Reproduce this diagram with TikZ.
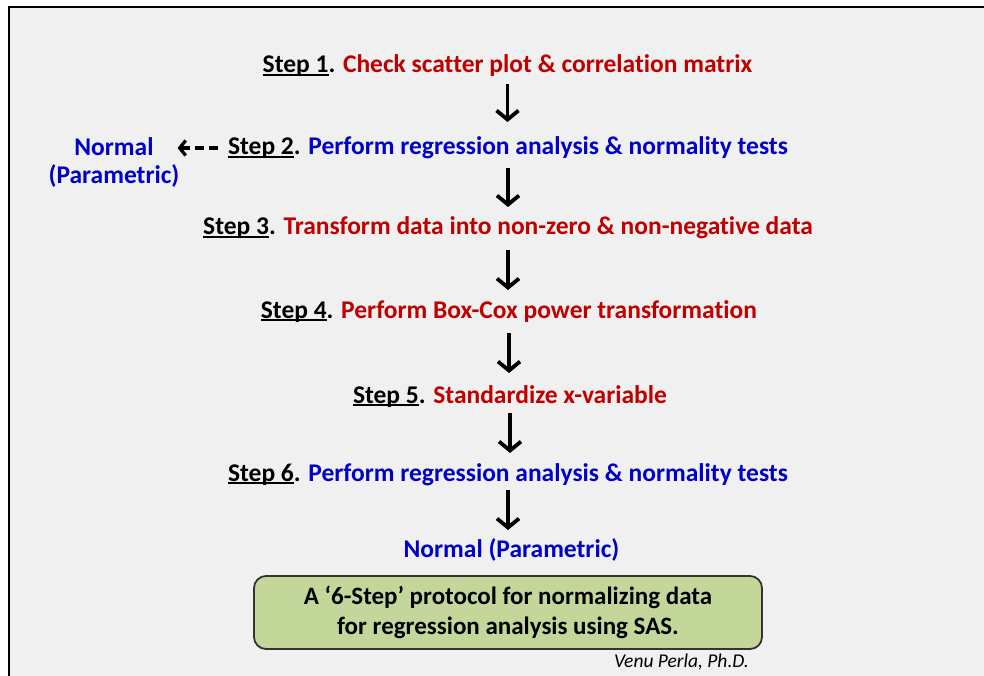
\documentclass[tikz,border=0pt]{standalone}
\usepackage{fontspec}
\setmainfont[Ligatures=CommonOff]{Carlito}
\usetikzlibrary{arrows.meta}
\definecolor{stepred}{HTML}{C00000}
\definecolor{stepblue}{HTML}{0000C8}
\definecolor{boxgreen}{HTML}{C4D79B}
\definecolor{bggray}{HTML}{F0F0F0}
\newlength\ulw
\newcommand\stepul[1]{\settowidth\ulw{#1}\rlap{\rule[-2.6pt]{\ulw}{1.6pt}}#1}
\tikzset{
  steptxt/.style={anchor=base, inner sep=0pt, font=\fontsize{25.5}{30}\selectfont\bfseries},
  downarr/.style={line width=3.8pt, -{Straight Barb[length=9pt,width=22pt]}},
  dasharr/.style={line width=3.2pt, dash pattern=on 9pt off 5pt, -{Straight Barb[length=6pt,width=15pt]}},
  notebox/.style={draw=black!80, line width=1.8pt, fill=boxgreen, rounded corners=12pt,
    minimum width=508pt, minimum height=73pt, align=center, inner sep=0pt,
    font=\fontsize{25}{29.5}\selectfont\bfseries},
}
\begin{document}
\begin{tikzpicture}[x=1pt,y=-1pt]
\useasboundingbox (0,0) rectangle (984,676);
\fill[white] (0,0) rectangle (984,676);
\fill[bggray] (9,7) rectangle (984,676);
\draw[line width=2.5pt] (9,676) -- (9,7) -- (984,7);

\node[steptxt] (s1) at (507.5,73) {\stepul{Step 1}. \textcolor{stepred}{Check scatter plot \& correlation matrix}};
\node[steptxt] (s2) at (508,155) {\stepul{Step 2}. \textcolor{stepblue}{Perform regression analysis \& normality tests}};
\node[steptxt] (s3) at (508,235) {\stepul{Step 3}. \textcolor{stepred}{Transform data into non-zero \& non-negative data}};
\node[steptxt] (s4) at (509,318) {\stepul{Step 4}. \textcolor{stepred}{Perform Box-Cox power transformation}};
\node[steptxt] (s5) at (510,403) {\stepul{Step 5}. \textcolor{stepred}{Standardize x-variable}};
\node[steptxt] (s6) at (508,481) {\stepul{Step 6}. \textcolor{stepblue}{Perform regression analysis \& normality tests}};
\node[steptxt, text=stepblue] (n7) at (511.5,557) {Normal (Parametric)};
\node[anchor=north, inner sep=0pt, align=center, text=stepblue,
      font=\fontsize{25.5}{28}\selectfont\bfseries] (nl) at (114,137) {Normal\\(Parametric)};

\draw[downarr] ([yshift=-11pt]s1.base) -- ([yshift=33pt]s1.base |- s2.base);
\draw[downarr] ([yshift=-13pt]s2.base) -- ([yshift=28pt]s2.base |- s3.base);
\draw[downarr] ([yshift=-15pt]s3.base) -- ([yshift=28pt]s3.base |- s4.base);
\draw[downarr] ([yshift=-15pt]s4.base) -- ([yshift=30pt]s4.base |- s5.base);
\draw[downarr] ([yshift=-10pt]s5.base) -- ([yshift=28pt]s5.base |- s6.base);
\draw[downarr] ([yshift=-9pt]s6.base) -- ([yshift=27pt]s6.base |- n7.base);

\draw[dasharr, shorten <=10pt, shorten >=-2pt] ([yshift=7pt]s2.base west) -- ([yshift=7pt]s2.base west -| nl.east);

\node[notebox] (box) at (508,612.5) {A ‘6-Step’ protocol for normalizing data\\for regression analysis using SAS.};
\node[anchor=base east, inner sep=0pt, font=\fontsize{19.5}{22}\selectfont\itshape] (au) at (749,667) {Venu Perla, Ph.D.};
\end{tikzpicture}
\end{document}
